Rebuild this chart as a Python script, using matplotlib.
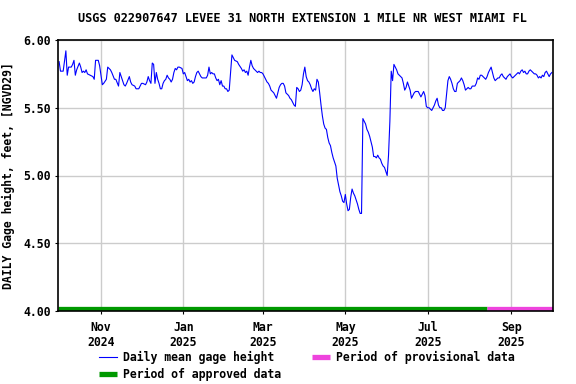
import numpy as np
import pandas as pd
import matplotlib
matplotlib.use("Agg")
import matplotlib.pyplot as plt
import matplotlib.dates as mdates

# daily mean gage height, days counted from 2024-10-01
start = pd.Timestamp("2024-10-01")
day_offset = [
    0, 1, 3, 5, 6, 7, 9, 10, 11, 12, 13, 15, 16, 17, 18, 19, 20, 21, 23, 25,
    26, 27, 29, 30, 32, 33, 35, 36, 38, 39, 41, 42, 44, 45, 47, 48, 49, 50, 52, 53,
    54, 56, 57, 59, 61, 62, 64, 65, 66, 67, 68, 69, 70, 71, 72, 73, 74, 75, 76, 77,
    78, 79, 80, 81, 82, 83, 84, 85, 86, 87, 88, 89, 91, 92, 93, 94, 95, 96, 97, 98,
    99, 100, 101, 102, 103, 104, 105, 106, 107, 108, 109, 110, 111, 112, 113, 114, 115, 116, 117, 118,
    119, 120, 121, 122, 123, 124, 125, 126, 127, 128, 129, 130, 132, 133, 135, 136, 137, 138, 139, 140,
    141, 142, 143, 144, 145, 146, 147, 148, 149, 150, 151, 152, 153, 154, 155, 156, 157, 158, 159, 160,
    161, 162, 163, 164, 165, 166, 167, 168, 169, 170, 171, 172, 173, 174, 175, 176, 177, 178, 179, 180,
    181, 182, 183, 184, 185, 186, 187, 188, 189, 190, 191, 192, 193, 194, 195, 196, 197, 198, 199, 200,
    201, 202, 203, 204, 205, 206, 207, 208, 209, 210, 211, 212, 213, 214, 215, 216, 217, 218, 219, 220,
    221, 222, 223, 224, 225, 226, 227, 228, 229, 230, 231, 232, 233, 234, 235, 236, 237, 238, 239, 240,
    241, 242, 243, 244, 245, 246, 247, 248, 249, 250, 251, 252, 253, 254, 255, 256, 257, 258, 259, 260,
    261, 262, 263, 264, 265, 266, 267, 268, 269, 270, 271, 272, 273, 274, 275, 276, 277, 278, 279, 280,
    281, 282, 283, 284, 285, 286, 287, 288, 289, 290, 291, 292, 293, 294, 295, 296, 297, 298, 299, 300,
    301, 302, 303, 304, 305, 306, 307, 308, 309, 310, 311, 312, 313, 314, 315, 316, 317, 318, 319, 320,
    321, 322, 323, 324, 325, 326, 327, 328, 329, 330, 331, 332, 333, 334, 335, 336, 337, 338, 339, 340,
    341, 342, 343, 344, 345, 346, 347, 348, 349, 350, 351, 352, 353, 354, 355, 356, 357, 358, 359, 360,
    361, 362, 363, 364, 365,
]
gage_ft = [
    5.84, 5.77, 5.77, 5.92, 5.74, 5.80, 5.80, 5.82, 5.85, 5.74, 5.78, 5.83, 5.80, 5.76, 5.77, 5.76, 5.78, 5.75, 5.74, 5.73,
    5.71, 5.85, 5.85, 5.81, 5.67, 5.68, 5.71, 5.80, 5.78, 5.76, 5.71, 5.71, 5.66, 5.76, 5.70, 5.67, 5.66, 5.68, 5.73, 5.69,
    5.67, 5.66, 5.64, 5.64, 5.68, 5.68, 5.67, 5.69, 5.73, 5.70, 5.68, 5.83, 5.82, 5.68, 5.76, 5.71, 5.68, 5.64, 5.64, 5.68,
    5.70, 5.71, 5.74, 5.72, 5.71, 5.69, 5.71, 5.76, 5.79, 5.78, 5.80, 5.80, 5.79, 5.75, 5.76, 5.73, 5.70, 5.71, 5.69, 5.70,
    5.68, 5.69, 5.73, 5.76, 5.77, 5.75, 5.73, 5.72, 5.72, 5.72, 5.72, 5.74, 5.80, 5.75, 5.76, 5.75, 5.75, 5.72, 5.70, 5.71,
    5.67, 5.70, 5.66, 5.66, 5.64, 5.64, 5.62, 5.63, 5.76, 5.89, 5.87, 5.85, 5.84, 5.82, 5.79, 5.77, 5.78, 5.76, 5.77, 5.74,
    5.80, 5.85, 5.81, 5.79, 5.78, 5.77, 5.76, 5.77, 5.76, 5.76, 5.75, 5.73, 5.71, 5.69, 5.68, 5.66, 5.63, 5.62, 5.61, 5.59,
    5.57, 5.61, 5.65, 5.67, 5.68, 5.68, 5.66, 5.61, 5.60, 5.59, 5.57, 5.56, 5.54, 5.52, 5.51, 5.65, 5.64, 5.62, 5.63, 5.67,
    5.75, 5.80, 5.73, 5.70, 5.69, 5.67, 5.64, 5.62, 5.64, 5.63, 5.71, 5.69, 5.61, 5.52, 5.44, 5.38, 5.35, 5.34, 5.28, 5.24,
    5.22, 5.17, 5.13, 5.10, 5.07, 4.98, 4.93, 4.88, 4.85, 4.81, 4.80, 4.86, 4.79, 4.74, 4.75, 4.84, 4.90, 4.87, 4.85, 4.82,
    4.79, 4.75, 4.72, 4.72, 5.42, 5.40, 5.38, 5.34, 5.32, 5.29, 5.25, 5.21, 5.14, 5.14, 5.13, 5.15, 5.13, 5.12, 5.09, 5.07,
    5.06, 5.03, 5.00, 5.15, 5.40, 5.77, 5.70, 5.82, 5.80, 5.78, 5.75, 5.74, 5.73, 5.72, 5.68, 5.63, 5.65, 5.69, 5.66, 5.63,
    5.57, 5.59, 5.61, 5.62, 5.62, 5.62, 5.60, 5.58, 5.60, 5.62, 5.59, 5.51, 5.50, 5.50, 5.49, 5.48, 5.50, 5.52, 5.55, 5.57,
    5.52, 5.50, 5.50, 5.48, 5.48, 5.50, 5.60, 5.70, 5.73, 5.71, 5.68, 5.64, 5.62, 5.62, 5.68, 5.69, 5.70, 5.72, 5.70, 5.67,
    5.63, 5.64, 5.65, 5.64, 5.64, 5.66, 5.66, 5.66, 5.68, 5.72, 5.71, 5.74, 5.74, 5.73, 5.72, 5.71, 5.73, 5.76, 5.78, 5.80,
    5.76, 5.72, 5.70, 5.71, 5.72, 5.72, 5.74, 5.75, 5.73, 5.72, 5.71, 5.73, 5.74, 5.75, 5.73, 5.72, 5.73, 5.74, 5.75, 5.76,
    5.75, 5.77, 5.78, 5.76, 5.77, 5.75, 5.75, 5.77, 5.78, 5.77, 5.76, 5.75, 5.75, 5.74, 5.72, 5.73, 5.72, 5.74, 5.73, 5.76,
    5.77, 5.75, 5.73, 5.75, 5.76,
]

# data approval periods
approved_span = ("2024-09-30", "2025-08-14")
provisional_span = ("2025-08-14", "2025-10-02")

title = "USGS 022907647 LEVEE 31 NORTH EXTENSION 1 MILE NR WEST MIAMI FL"
ylabel = "DAILY Gage height, feet, [NGVD29]"

plt.rcParams["font.family"] = "DejaVu Sans Mono"
plt.rcParams["font.weight"] = "bold"
fs = 8.3

dates = start + pd.to_timedelta(day_offset, unit="D")

fig = plt.figure(figsize=(5.76, 3.84), dpi=100)
ax = fig.add_axes([58 / 576, 1 - 311 / 384, 495 / 576, 271 / 384])

ax.plot(dates, gage_ft, color="#0000ff", lw=0.8, label="Daily mean gage height")
ax.plot(pd.to_datetime(approved_span), [4.017, 4.017], color="#009900", lw=3.8,
        solid_capstyle="butt", label="Period of approved data")
ax.plot(pd.to_datetime(provisional_span), [4.017, 4.017], color="#ee44dd", lw=3.8,
        solid_capstyle="butt", label="Period of provisional data")

ax.set_ylim(4.0, 6.0)
ax.set_xlim(mdates.date2num(pd.Timestamp("2024-09-30 04:00")),
            mdates.date2num(pd.Timestamp("2025-10-01 20:00")))
ax.set_yticks([4.0, 4.5, 5.0, 5.5, 6.0])
ax.yaxis.set_major_formatter(matplotlib.ticker.FormatStrFormatter("%.2f"))
ax.xaxis.set_major_locator(mdates.MonthLocator(bymonth=[1, 3, 5, 7, 9, 11]))
ax.xaxis.set_major_formatter(mdates.DateFormatter("%b\n%Y"))
ax.grid(True, color="#cccccc", lw=1.0)
ax.set_axisbelow(True)
ax.tick_params(axis="both", length=2, width=0.8, labelsize=fs, pad=3)
ax.tick_params(axis="x", pad=5)
for lab in ax.get_xticklabels() + ax.get_yticklabels():
    lab.set_fontweight("bold")
for s in ax.spines.values():
    s.set_linewidth(1.2)

ax.set_title(title, fontsize=8.6, fontweight="bold", pad=13, x=0.494)
ax.set_ylabel(ylabel, fontsize=fs, fontweight="bold", labelpad=6)

fig.legend(loc="upper left", bbox_to_anchor=(99 / 576, 1 - 351 / 384), ncol=2,
           frameon=False, fontsize=fs, handlelength=1.6, handletextpad=0.5,
           columnspacing=2.65, labelspacing=0.35, borderpad=0, borderaxespad=0,
           prop={"family": "DejaVu Sans Mono", "weight": "bold", "size": fs})

fig.savefig("out.png", dpi=100)
